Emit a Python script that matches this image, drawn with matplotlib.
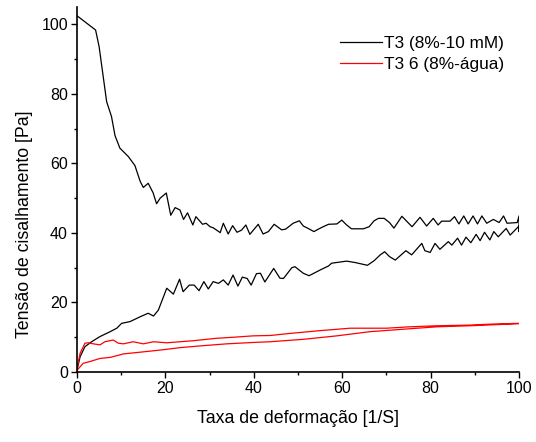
import matplotlib
matplotlib.use('Agg')
import matplotlib.pyplot as plt
from matplotlib.ticker import MultipleLocator

plt.rcParams['font.family'] = ['Liberation Sans', 'DejaVu Sans']

# curva T3: subida (lo) e descida (up)
lo_x = [0, 0.7, 1.8, 3.3, 5.2, 7.5, 9.0, 10.1, 12.0, 14.3, 16.1, 17.3, 18.4, 20.3, 21.8,
        23.2, 24.0, 25.4, 26.5, 27.6, 28.7, 29.7, 30.8, 32.0, 33.1, 34.2, 35.3, 36.4, 37.4,
        38.5, 39.4, 40.6, 41.5, 42.5, 44.5, 45.9, 46.7, 48.6, 49.3, 51.2, 52.5, 55.4, 56.9,
        57.6, 61.0, 62.9, 65.7, 67.2, 68.6, 69.6, 70.7, 72.0, 74.4, 75.7, 78.0, 78.7, 79.9,
        81.0, 82.1, 84.0, 84.8, 86.1, 87.0, 88.0, 89.1, 90.3, 91.2, 92.2, 93.4, 94.3, 95.3,
        97.1, 98.0, 99.6, 100]
lo_y = [0.6, 4.4, 7.3, 8.7, 10.2, 11.6, 12.6, 14.0, 14.5, 15.9, 16.9, 16.1, 17.8, 24.1, 22.4,
        26.7, 23.1, 25.0, 25.0, 23.4, 26.0, 23.9, 26.0, 25.5, 26.5, 25.0, 27.9, 24.7, 27.3,
        26.9, 25.0, 28.3, 28.4, 25.9, 29.8, 27.0, 26.9, 30.0, 30.3, 28.4, 27.7, 29.6, 30.5,
        31.3, 31.9, 31.5, 30.7, 32.0, 33.7, 34.6, 33.2, 32.2, 34.9, 33.7, 37.0, 34.9, 34.4,
        37.0, 35.3, 37.5, 36.5, 38.5, 36.5, 38.8, 37.2, 39.6, 37.8, 40.2, 38.0, 40.4, 38.9,
        41.3, 39.4, 41.5, 42.0]

up_x = [0, 4.2, 5.0, 6.7, 7.8, 8.6, 9.7, 11.6, 13.1, 14.3, 15.0, 16.1, 17.2, 18.0, 18.8,
        20.2, 21.2, 22.2, 23.3, 24.1, 25.0, 26.2, 26.9, 28.4, 29.2, 30.1, 30.8, 32.4, 33.1,
        34.2, 35.2, 36.2, 37.2, 38.2, 39.1, 41.0, 42.1, 43.3, 44.6, 46.3, 47.2, 48.9, 50.3,
        51.2, 52.3, 53.6, 54.6, 55.7, 56.9, 58.8, 59.9, 61.0, 62.1, 64.8, 66.1, 67.2, 68.2,
        69.5, 70.7, 71.7, 73.5, 75.8, 77.6, 79.1, 80.6, 81.7, 82.5, 84.4, 85.4, 86.4, 87.5,
        88.5, 89.6, 90.6, 91.6, 92.7, 94.2, 95.5, 96.5, 97.3, 99.6, 100, 100, 100, 100]
up_y = [102.5, 98.4, 93.6, 77.8, 73.5, 68.0, 64.4, 62.0, 59.4, 54.8, 53.1, 54.3, 51.6, 48.4, 50.0,
        51.5, 45.1, 47.3, 46.6, 43.9, 45.8, 42.3, 44.7, 42.5, 42.8, 41.8, 41.5, 40.1, 42.8,
        39.7, 42.1, 40.2, 40.8, 42.3, 39.6, 42.5, 39.7, 40.4, 42.5, 40.9, 41.1, 42.8, 43.5,
        42.0, 41.3, 40.4, 41.1, 41.8, 42.5, 42.6, 43.7, 42.3, 41.2, 41.2, 41.8, 43.5, 44.2,
        44.2, 43.0, 41.4, 44.8, 41.8, 44.5, 42.0, 44.2, 42.3, 43.4, 43.4, 44.7, 42.6, 44.9,
        42.6, 44.9, 42.6, 44.9, 42.8, 43.9, 43.0, 44.9, 42.8, 43.0, 44.9, 40.4, 44.0, 41.5]

# curva T3 6: subida (rl) e descida (ru)
rl_x = [0, 1.4, 2.9, 5.2, 7.5, 10.5, 14.3, 18.8, 23.3, 27.8, 33.9, 39.9, 43.7, 51.2, 58.8,
        66.3, 73.8, 81.4, 88.9, 96.4, 100]
rl_y = [0.5, 2.5, 3.0, 3.9, 4.2, 5.2, 5.7, 6.3, 7.0, 7.5, 8.1, 8.5, 8.7, 9.4, 10.4,
        11.6, 12.3, 13.0, 13.3, 13.7, 13.9]
ru_x = [0, 0.7, 1.8, 2.6, 3.7, 5.2, 6.3, 8.2, 9.3, 10.5, 12.7, 15.0, 17.3, 20.3, 23.3,
        26.3, 31.6, 35.4, 39.9, 43.7, 48.2, 55.0, 61.8, 70.0, 75.3, 81.4, 88.9, 94.2, 100]
ru_y = [1.0, 5.4, 8.3, 8.4, 8.1, 7.8, 8.7, 9.2, 8.3, 8.1, 8.7, 8.1, 8.7, 8.4, 8.7,
        9.0, 9.7, 10.0, 10.4, 10.5, 11.1, 11.9, 12.6, 12.6, 13.0, 13.3, 13.5, 13.8, 14.0]

fig = plt.figure(figsize=(5.36, 4.42), dpi=100)
ax = fig.add_axes([0.1437, 0.1584, 0.8246, 0.8256])

ax.plot(lo_x + up_x[::-1], lo_y + up_y[::-1], color='black', lw=0.9, label='T3 (8%-10 mM)')
ax.plot(rl_x + ru_x[::-1], rl_y + ru_y[::-1], color='red', lw=0.9, label='T3 6 (8%-água)')

ax.set_xlim(0, 100)
ax.set_ylim(0, 105)
ax.xaxis.set_major_locator(MultipleLocator(20))
ax.xaxis.set_minor_locator(MultipleLocator(10))
ax.yaxis.set_major_locator(MultipleLocator(20))
ax.yaxis.set_minor_locator(MultipleLocator(10))
ax.spines['top'].set_visible(False)
ax.spines['right'].set_visible(False)
for s in ['left', 'bottom']:
    ax.spines[s].set_linewidth(1.2)
ax.tick_params(which='major', length=4, width=1.0, labelsize=11.5, pad=2.5)
ax.tick_params(which='minor', length=2.5, width=1.0)

ax.set_xlabel('Taxa de deformação [1/S]', fontsize=12.8)
ax.xaxis.set_label_coords(0.5, -0.103)
ax.set_ylabel('Tensão de cisalhamento [Pa]', fontsize=12.8)
ax.yaxis.set_label_coords(-0.100, 0.404)

ax.legend(loc='upper left', bbox_to_anchor=(340 / 536, 1 - 36 / 442),
          bbox_transform=fig.transFigure, frameon=False, fontsize=12.4,
          borderpad=0, borderaxespad=0, handlelength=2.45, handletextpad=0.1,
          labelspacing=0.35)

fig.savefig('out.png', dpi=100)
